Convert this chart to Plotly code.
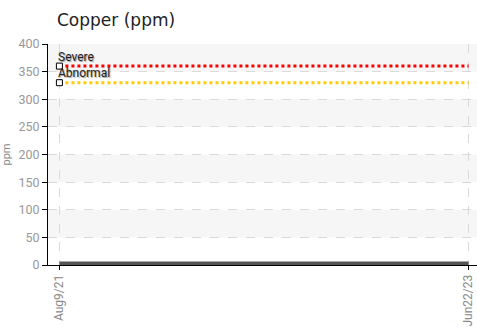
import plotly.graph_objects as go

dates = ["2021-08-09", "2023-06-22"]
tick_labels = ["Aug9/21", "Jun22/23"]
copper = [0, 0]
severe = [360, 360]
abnormal = [330, 330]
limit_names = ["Severe", "Abnormal"]
y_ticks = [0, 50, 100, 150, 200, 250, 300, 350, 400]

fig = go.Figure()

# alternating background bands
for i in range(len(y_ticks) - 1):
    if i % 2 == 1:
        fig.add_shape(type="rect", xref="paper", yref="y", x0=0, x1=1,
                      y0=y_ticks[i], y1=y_ticks[i + 1],
                      fillcolor="#f6f6f6", line_width=0, layer="below")

fig.add_trace(go.Scatter(x=dates, y=severe, mode="lines",
                         line=dict(color="#ff0000", width=3, dash="dot"),
                         hoverinfo="skip", showlegend=False))
fig.add_trace(go.Scatter(x=dates, y=abnormal, mode="lines",
                         line=dict(color="#ffcc00", width=3, dash="dot"),
                         hoverinfo="skip", showlegend=False))
fig.add_trace(go.Scatter(x=[dates[0], dates[0]], y=[severe[0], abnormal[0]], mode="markers",
                         marker=dict(symbol="square", size=6, color="white",
                                     line=dict(color="black", width=1)),
                         hoverinfo="skip", showlegend=False))
fig.add_trace(go.Scatter(x=dates, y=copper, mode="lines",
                         line=dict(color="#555555", width=7),
                         showlegend=False))

for name, val, ys in [(limit_names[0], severe[0], 0), (limit_names[1], abnormal[0], 1)]:
    fig.add_annotation(x=dates[0], y=val, text=name, showarrow=False,
                       xanchor="left", yanchor="bottom", xshift=-3, yshift=ys,
                       font=dict(family="Roboto", size=12, color="#222",
                                 shadow="1px 1px 1px #999"))

fig.update_layout(
    width=477, height=327,
    margin=dict(l=48, r=0, t=44, b=62, autoexpand=False),
    paper_bgcolor="white", plot_bgcolor="white",
    title=dict(text="Copper (ppm)", x=57 / 477, xanchor="left", y=1 - 20 / 327, yanchor="middle",
               font=dict(family="DejaVu Sans", size=17, color="#222"), automargin=False),
    xaxis=dict(type="date", range=["2021-07-21", "2023-07-06"], automargin=False,
               tickvals=dates, ticktext=tick_labels, tickangle=-90,
               tickfont=dict(family="Roboto", size=12, color="#888"),
               showgrid=True, gridcolor="#dadada", griddash="dash", gridwidth=1,
               showline=True, linecolor="black", linewidth=1,
               ticks="outside", ticklen=4, tickcolor="black", zeroline=False),
    yaxis=dict(range=[0, 400], tickvals=y_ticks, automargin=False,
               tickfont=dict(family="Roboto", size=12.5, color="#999"),
               showgrid=True, gridcolor="#dadada", griddash="dash", gridwidth=1,
               showline=True, linecolor="black", linewidth=1,
               ticks="outside", ticklen=5, tickcolor="black", zeroline=False,
               title=dict(text="ppm", font=dict(family="Roboto", size=11, color="#888"),
                          standoff=9)),
)

fig.write_html("out.html", config={"displayModeBar": False},
               post_script="document.body.style.margin='0';")
